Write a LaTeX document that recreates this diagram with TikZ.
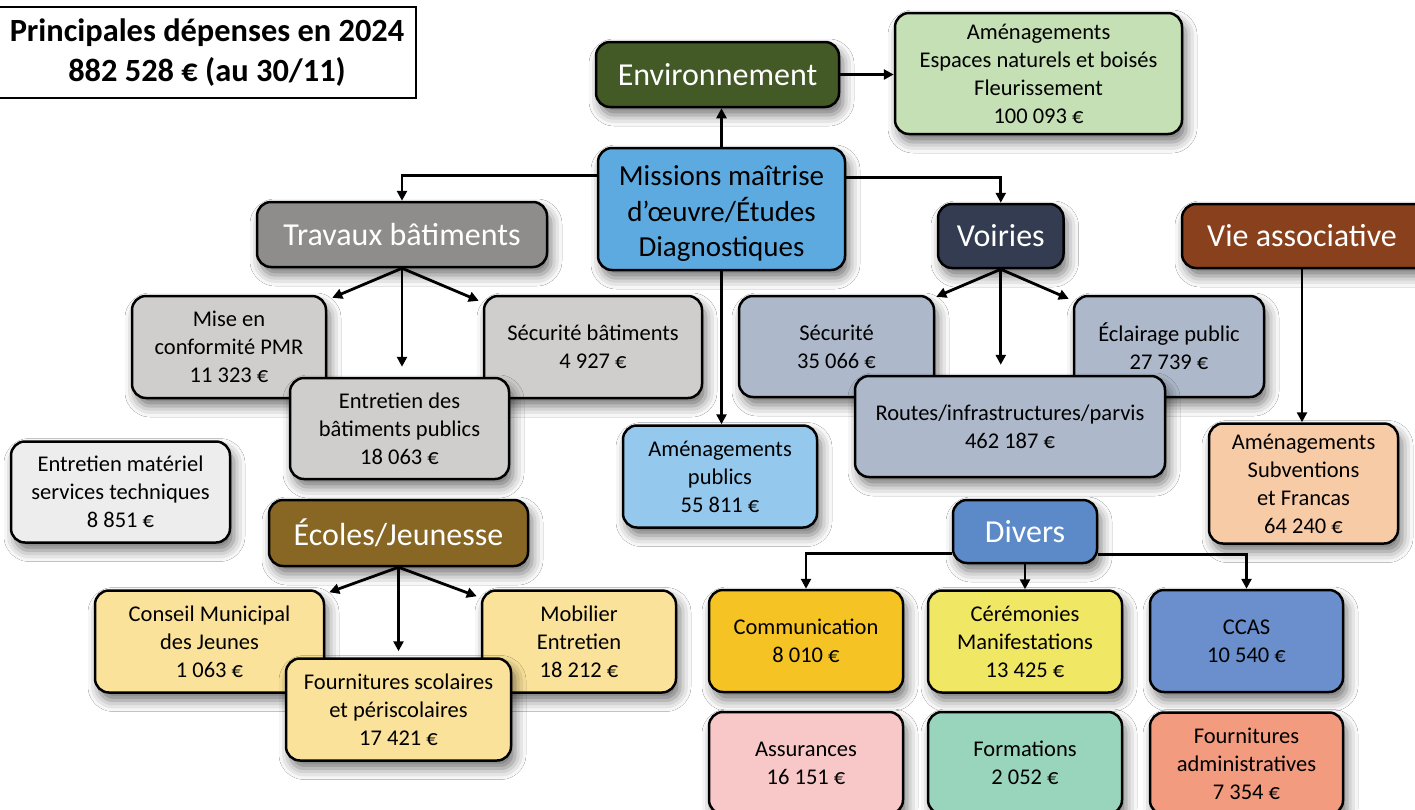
\documentclass[tikz,border=0pt]{standalone}
\usepackage{fontspec}
\setmainfont{Carlito}
\usetikzlibrary{arrows.meta,calc,shadows.blur}
\definecolor{cEnv}{RGB}{67,89,38}
\definecolor{cEnvL}{RGB}{197,224,180}
\definecolor{cMiss}{RGB}{93,170,224}
\definecolor{cTrav}{RGB}{143,141,140}
\definecolor{cGrayL}{RGB}{208,206,205}
\definecolor{cGrayXL}{RGB}{237,237,237}
\definecolor{cEco}{RGB}{136,102,35}
\definecolor{cYelL}{RGB}{250,226,154}
\definecolor{cAmp}{RGB}{149,200,237}
\definecolor{cVoi}{RGB}{51,60,80}
\definecolor{cVoiL}{RGB}{173,184,202}
\definecolor{cVie}{RGB}{137,65,29}
\definecolor{cPea}{RGB}{248,203,167}
\definecolor{cDiv}{RGB}{92,137,200}
\definecolor{cCom}{RGB}{245,196,36}
\definecolor{cCer}{RGB}{240,232,100}
\definecolor{cCcas}{RGB}{106,143,204}
\definecolor{cAss}{RGB}{248,200,200}
\definecolor{cForm}{RGB}{153,212,188}
\definecolor{cFadm}{RGB}{242,155,126}
\tikzset{
  bx/.style={draw=black, line width=2.5pt, rounded corners=14pt, align=center,
    inner sep=0pt, font=\fontsize{22.5}{28}\selectfont,
    blur shadow={shadow xshift=4pt, shadow yshift=-8pt, shadow blur radius=11pt, shadow opacity=55}},
  hd/.style={bx, text=white, font=\fontsize{32}{38}\selectfont},
  arr/.style={line width=2.8pt, -{Triangle[length=10pt,width=10pt]}},
}
\begin{document}
\begin{tikzpicture}[x=1pt,y=-1pt]
\path[use as bounding box, clip] (0,0) rectangle (1415,809);
\fill[white] (0,0) rectangle (1415,809);
% title
\node[draw=black, line width=1.5pt, fill=white, inner sep=0pt, minimum width=418pt, minimum height=91pt, align=center,
  font=\bfseries\fontsize{32.4}{40}\selectfont] (title) at (207,52.5)
  {Principales dépenses en 2024\\882 528 € (au 30/11)};
% top
\node[hd, fill=cEnv, minimum width=243pt, minimum height=65pt] (env) at (717.5,74.5) {Environnement};
\node[bx, fill=cEnvL, minimum width=287pt, minimum height=121pt] (envl) at (1038.5,73.5)
  {Aménagements\\Espaces naturels et boisés\\Fleurissement\\100 093 €};
\node[bx, fill=cMiss, minimum width=247pt, minimum height=122pt, font=\fontsize{29}{35.5}\selectfont] (miss) at (721.5,209)
  {\rule{0pt}{29pt}Missions maîtrise\\d’œuvre/Études\\Diagnostiques};
% travaux
\node[hd, fill=cTrav, minimum width=290pt, minimum height=65pt] (trav) at (402,234.5) {Travaux bâtiments};
\node[bx, fill=cGrayL, minimum width=194pt, minimum height=102pt] (mise) at (229,347) {Mise en\\conformité PMR\\11 323 €};
\node[bx, fill=cGrayL, minimum width=218pt, minimum height=102pt] (secb) at (593,347) {Sécurité bâtiments\\4 927 €};
\node[bx, fill=cGrayL, minimum width=219pt, minimum height=101pt] (ent) at (399.5,428.5) {Entretien des\\bâtiments publics\\18 063 €};
\node[bx, fill=cGrayXL, minimum width=219pt, minimum height=101pt] (entm) at (120.5,492) {Entretien matériel\\services techniques\\8 851 €};
% ecoles
\node[hd, fill=cEco, minimum width=259pt, minimum height=66pt] (eco) at (398.5,533) {Écoles/Jeunesse};
\node[bx, fill=cYelL, minimum width=229pt, minimum height=102pt] (cons) at (209.5,641.5) {Conseil Municipal\\des Jeunes\\1 063 €};
\node[bx, fill=cYelL, minimum width=194pt, minimum height=102pt] (mob) at (579,641.5) {Mobilier\\Entretien\\18 212 €};
\node[bx, fill=cYelL, minimum width=225pt, minimum height=102pt] (fsc) at (398.5,709.5) {Fournitures scolaires\\et périscolaires\\17 421 €};
% amenagements publics
\node[bx, fill=cAmp, minimum width=194pt, minimum height=102pt] (amp) at (720,476.5) {Aménagements\\publics\\55 811 €};
% voiries
\node[hd, fill=cVoi, minimum width=125.5pt, minimum height=64pt] (voi) at (1000.75,236) {Voiries};
\node[bx, fill=cVoiL, minimum width=195pt, minimum height=101pt] (sec) at (836.5,346.5) {Sécurité\\35 066 €};
\node[bx, fill=cVoiL, minimum width=190pt, minimum height=101pt] (ecl) at (1169,346.5) {Éclairage public\\27 739 €};
\node[bx, fill=cVoiL, minimum width=310pt, minimum height=101pt] (rou) at (1010,426.5) {Routes/infrastructures/parvis\\462 187 €};
% vie associative
\node[hd, fill=cVie, minimum width=280pt, minimum height=64pt] (vie) at (1322,236) {Vie associative\rule{40pt}{0pt}};
\node[bx, fill=cPea, minimum width=189pt, minimum height=120pt] (pea) at (1303.5,483.5) {Aménagements\\Subventions\\et Francas\\64 240 €};
% divers
\node[hd, fill=cDiv, minimum width=144pt, minimum height=63pt] (div) at (1025,531.5) {Divers};
\node[bx, fill=cCom, minimum width=194pt, minimum height=102pt] (com) at (806,641) {Communication\\8 010 €};
\node[bx, fill=cCer, minimum width=194pt, minimum height=102pt] (cer) at (1025,641.5) {Cérémonies\\Manifestations\\13 425 €};
\node[bx, fill=cCcas, minimum width=193pt, minimum height=102pt] (ccas) at (1246.5,641) {CCAS\\10 540 €};
\node[bx, fill=cAss, minimum width=194pt, minimum height=102pt] (ass) at (806,763) {Assurances\\16 151 €};
\node[bx, fill=cForm, minimum width=194pt, minimum height=102pt] (form) at (1025,763) {Formations\\2 052 €};
\node[bx, fill=cFadm, minimum width=193pt, minimum height=102pt] (fadm) at (1246.5,763.5) {Fournitures\\administratives\\7 354 €};
% connectors
\draw[arr] (miss.north) -- (miss.north |- env.south);
\draw[arr] (env.east) -- (env.east -| envl.west);
\draw[arr] ($(miss.north west)+(0,29)$) -| (trav.north);
\draw[arr] ($(miss.north east)+(0,31)$) -| (voi.north);
\draw[arr] (miss.south) -- (miss.south |- amp.north);
\draw[arr] (trav.south) -- ($(mise.north east)+(5,3)$);
\draw[arr] (trav.south) -- ($(secb.north west)+(-4,6)$);
\draw[arr, shorten >=10pt] (trav.south) -- (trav.south |- ent.north);
\draw[arr] (eco.south) -- ($(cons.north east)+(4,3)$);
\draw[arr] (eco.south) -- ($(mob.north west)+(-4,7)$);
\draw[arr, shorten >=6pt] (eco.south) -- (eco.south |- fsc.north);
\draw[arr] (voi.south) -- ($(sec.north east)+(1,2)$);
\draw[arr] (voi.south) -- ($(ecl.north west)+(-4,4)$);
\draw[arr, shorten >=10pt] (voi.south) -- (voi.south |- rou.north);
\draw[arr] ($(vie.south)+(-20,0)$) -- ($(vie.south |- pea.north)+(-20,0)$);
\draw[arr] ($(div.south west)+(0,-11)$) -| (com.north);
\draw[arr] (div.south) -- (cer.north);
\draw[arr] ($(div.south east)+(0,-10)$) -| (ccas.north);
\end{tikzpicture}
\end{document}
